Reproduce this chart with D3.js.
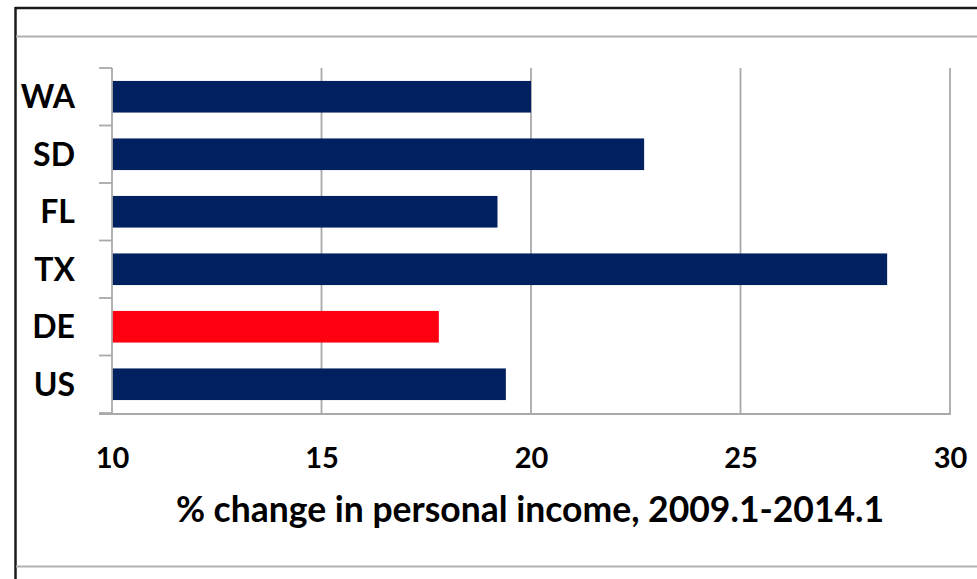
<!DOCTYPE html>
<html>
<head>
<meta charset="utf-8">
<script src="https://cdn.jsdelivr.net/npm/d3@7"></script>
<style>
  html, body { margin: 0; padding: 0; background: #fff; }
  svg { display: block; }
  text { font-family: Lato, "Open Sans", sans-serif; font-weight: bold; fill: #000; }
</style>
</head>
<body>
<svg id="chart" width="977" height="579"></svg>
<script>
// data
const states = ['WA', 'SD', 'FL', 'TX', 'DE', 'US'];
const change = [20.0, 22.7, 19.2, 28.5, 17.8, 19.4];
const highlight = ['DE'];
const xTicks = [10, 15, 20, 25, 30];
const xTitle = '% change in personal income, 2009.1-2014.1';

const width = 977, height = 579;
const plot = { left: 112, right: 950, top: 68, bottom: 413 };

const svg = d3.select('#chart');

// outer frame (screenshot edges)
svg.append('line').attr('x1', 15).attr('x2', width).attr('y1', 8).attr('y2', 8)
    .attr('stroke', '#1a1a1a').attr('stroke-width', 2.5);
svg.append('line').attr('x1', 15.5).attr('x2', 15.5).attr('y1', 7).attr('y2', height)
    .attr('stroke', '#1a1a1a').attr('stroke-width', 2.5);
svg.append('line').attr('x1', 16).attr('x2', width).attr('y1', 36.5).attr('y2', 36.5)
    .attr('stroke', '#b0b0b0').attr('stroke-width', 2);
svg.append('line').attr('x1', 16).attr('x2', width).attr('y1', 566.5).attr('y2', 566.5)
    .attr('stroke', '#b0b0b0').attr('stroke-width', 2);

const x = d3.scaleLinear()
    .domain([xTicks[0], xTicks[xTicks.length - 1]])
    .range([plot.left, plot.right]);

const y = d3.scaleBand()
    .domain(states)
    .range([plot.top, plot.bottom])
    .paddingInner(0.45)
    .paddingOuter(0.225);

const grid = '#a9a9a9';

// vertical gridlines
svg.append('g')
    .selectAll('line')
    .data(xTicks.slice(1))
    .join('line')
    .attr('x1', d => x(d)).attr('x2', d => x(d))
    .attr('y1', plot.top).attr('y2', plot.bottom + 1)
    .attr('stroke', grid).attr('stroke-width', 1.8);

// bars
svg.append('g')
    .selectAll('rect')
    .data(states)
    .join('rect')
    .attr('x', x(xTicks[0]))
    .attr('y', d => y(d))
    .attr('height', y.bandwidth())
    .attr('width', (d, i) => x(change[i]) - x(xTicks[0]))
    .attr('fill', d => highlight.includes(d) ? '#ff0010' : '#002060');

// left axis line + boundary ticks
const bounds = states.map(d => y(d) - y.step() * y.paddingInner() / 2).concat([plot.bottom]);
svg.append('line')
    .attr('x1', plot.left).attr('x2', plot.left)
    .attr('y1', plot.top).attr('y2', plot.bottom + 1)
    .attr('stroke', grid).attr('stroke-width', 1.8);
svg.append('g')
    .selectAll('line')
    .data(bounds)
    .join('line')
    .attr('x1', plot.left - 13).attr('x2', plot.left)
    .attr('y1', d => d).attr('y2', d => d)
    .attr('stroke', grid).attr('stroke-width', 1.8);

// bottom axis line
svg.append('line')
    .attr('x1', plot.left - 13).attr('x2', plot.right + 1)
    .attr('y1', plot.bottom + 1).attr('y2', plot.bottom + 1)
    .attr('stroke', grid).attr('stroke-width', 1.8);

// category labels
const yAxis = svg.append('g')
    .attr('transform', `translate(75,0)`)
    .call(d3.axisLeft(y).tickSize(0).tickPadding(0));
yAxis.select('.domain').remove();
yAxis.selectAll('text')
    .style('font-family', 'Lato, sans-serif')
    .style('font-weight', 'bold')
    .style('font-size', '32px')
    .attr('fill', '#000')
    .attr('dy', '0.36em');

// x tick labels
const xAxis = svg.append('g')
    .attr('transform', `translate(0,${plot.bottom})`)
    .call(d3.axisBottom(x).tickValues(xTicks).tickSize(0).tickPadding(0));
xAxis.select('.domain').remove();
xAxis.selectAll('text')
    .style('font-family', 'Lato, sans-serif')
    .style('font-weight', 'bold')
    .style('font-size', '29px')
    .attr('fill', '#000')
    .attr('y', 55)
    .attr('dy', 0);

// axis title
svg.append('text')
    .attr('x', 530)
    .attr('y', 522)
    .attr('text-anchor', 'middle')
    .style('font-size', '35.5px')
    .text(xTitle);
</script>
</body>
</html>
